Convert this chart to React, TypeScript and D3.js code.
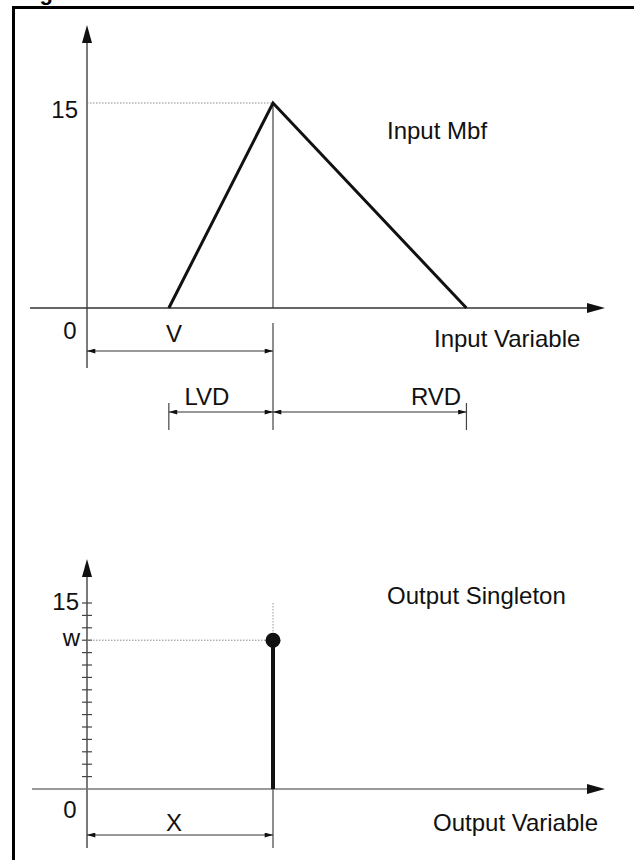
import React from 'react';
import * as d3 from 'd3';

// Input membership function (triangle), in axis units
const inputPeak = 15;
const inputV = 10;
const inputLVD = 5.6;
const inputRVD = 10.4;
const inputTicks = [0, 15];

// Output singleton
const outputX = 10;
const outputW = 12;
const outputTicks = d3.range(1, 16);

const W = 634;
const H = 860;
const FONT = '"Liberation Sans", Arial, Helvetica, sans-serif';

const Arrow = ({ x, y, dir, len = 18, half = 5 }: { x: number; y: number; dir: 'up' | 'right'; len?: number; half?: number }) => {
  const pts =
    dir === 'up'
      ? [[x, y], [x - half, y + len], [x + half, y + len]]
      : [[x, y], [x - len, y - half], [x - len, y + half]];
  return <polygon points={pts.map((p) => p.join(',')).join(' ')} fill="#111" />;
};

const App: React.FC = () => {
  // upper chart scales
  const xTop = d3.scaleLinear().domain([0, 10]).range([87, 273]);
  const yTop = d3.scaleLinear().domain([0, 15]).range([308, 103]);
  // lower chart scales
  const xBot = d3.scaleLinear().domain([0, 10]).range([87, 273]);
  const yBot = d3.scaleLinear().domain([0, 15]).range([789, 603]);

  const tri = d3
    .line<[number, number]>()
    .x((d) => xTop(d[0]))
    .y((d) => yTop(d[1]))([
    [inputV - inputLVD, 0],
    [inputV, inputPeak],
    [inputV + inputRVD, 0],
  ]);

  const axisColor = '#333';
  const textStyle: React.CSSProperties = { fontFamily: FONT, fontSize: 24, fill: '#111' };

  const dimY1 = 351;
  const dimY2 = 412;
  const dimY3 = 835;

  return (
    <svg width={W} height={H} style={{ position: 'absolute', left: 0, top: 0, background: '#fff' }}>
      <defs>
        <marker id="dimArrow" viewBox="0 0 10 6" refX="10" refY="3" markerWidth="9" markerHeight="5" markerUnits="userSpaceOnUse" orient="auto-start-reverse">
          <path d="M0,0 L10,3 L0,6 Z" fill="#111" />
        </marker>
      </defs>

      {/* caption fragment and frame */}
      <text x={20} y={0} style={{ fontFamily: FONT, fontSize: 22, fontWeight: 'bold' }} fill="#000">Fig</text>
      <line x1={12} x2={W} y1={7.5} y2={7.5} stroke="#000" strokeWidth={3} />
      <line x1={13.5} x2={13.5} y1={6} y2={H} stroke="#000" strokeWidth={3} />

      {/* ---------- upper chart ---------- */}
      <line x1={xTop(0)} x2={xTop(0)} y1={40} y2={368} stroke={axisColor} strokeWidth={1.3} />
      <Arrow x={xTop(0)} y={25} dir="up" />
      <line x1={30} x2={590} y1={yTop(0)} y2={yTop(0)} stroke={axisColor} strokeWidth={1.5} />
      <Arrow x={605} y={yTop(0)} dir="right" />

      <line x1={xTop(0)} x2={xTop(inputV)} y1={yTop(inputPeak)} y2={yTop(inputPeak)} stroke="#888" strokeWidth={1} strokeDasharray="1.5 1.5" />
      <line x1={xTop(inputV)} x2={xTop(inputV)} y1={yTop(inputPeak)} y2={yTop(0)} stroke="#444" strokeWidth={1.2} />
      <path d={tri ?? ''} fill="none" stroke="#111" strokeWidth={3} strokeLinejoin="miter" />

      <text x={78} y={yTop(inputTicks[1]) + 6} dy="0.36em" textAnchor="end" style={textStyle}>{inputTicks[1]}</text>
      <text x={70} y={330} dy="0.36em" textAnchor="middle" style={textStyle}>{inputTicks[0]}</text>
      <text x={387} y={139} style={textStyle}>Input Mbf</text>
      <text x={434} y={347} style={textStyle}>Input Variable</text>

      {/* dimension lines */}
      <line x1={xTop(inputV)} x2={xTop(inputV)} y1={323} y2={430} stroke="#444" strokeWidth={1.2} />
      <line x1={xTop(inputV - inputLVD)} x2={xTop(inputV - inputLVD)} y1={403} y2={430} stroke="#444" strokeWidth={1.2} />
      <line x1={xTop(inputV + inputRVD)} x2={xTop(inputV + inputRVD)} y1={403} y2={430} stroke="#444" strokeWidth={1.2} />

      <line x1={xTop(0)} x2={xTop(inputV)} y1={dimY1} y2={dimY1} stroke="#333" strokeWidth={1.2} markerStart="url(#dimArrow)" markerEnd="url(#dimArrow)" />
      <line x1={xTop(inputV - inputLVD)} x2={xTop(inputV)} y1={dimY2} y2={dimY2} stroke="#333" strokeWidth={1.2} markerStart="url(#dimArrow)" markerEnd="url(#dimArrow)" />
      <line x1={xTop(inputV)} x2={xTop(inputV + inputRVD)} y1={dimY2} y2={dimY2} stroke="#333" strokeWidth={1.2} markerStart="url(#dimArrow)" markerEnd="url(#dimArrow)" />

      <text x={174} y={333} dy="0.36em" textAnchor="middle" style={textStyle}>V</text>
      <text x={207} y={396} dy="0.36em" textAnchor="middle" style={textStyle}>LVD</text>
      <text x={436} y={396} dy="0.36em" textAnchor="middle" style={textStyle}>RVD</text>

      {/* ---------- lower chart ---------- */}
      <line x1={xBot(0)} x2={xBot(0)} y1={574} y2={848} stroke={axisColor} strokeWidth={1.3} />
      <Arrow x={xBot(0)} y={559} dir="up" />
      <line x1={32} x2={590} y1={yBot(0)} y2={yBot(0)} stroke="#777" strokeWidth={1.6} />
      <Arrow x={605} y={yBot(0)} dir="right" />

      {outputTicks.map((t) => (
        <line key={t} x1={xBot(0) - 5} x2={xBot(0) + 5} y1={yBot(t)} y2={yBot(t)} stroke="#444" strokeWidth={1.2} />
      ))}

      <line x1={xBot(0)} x2={xBot(outputX)} y1={yBot(outputW)} y2={yBot(outputW)} stroke="#888" strokeWidth={1} strokeDasharray="1.5 1.5" />
      <line x1={xBot(outputX)} x2={xBot(outputX)} y1={yBot(15)} y2={yBot(outputW) - 6} stroke="#999" strokeWidth={1} strokeDasharray="1.5 1.5" />
      <line x1={xBot(outputX)} x2={xBot(outputX)} y1={yBot(0)} y2={848} stroke="#444" strokeWidth={1.2} />
      <line x1={xBot(outputX)} x2={xBot(outputX)} y1={yBot(outputW)} y2={yBot(0)} stroke="#111" strokeWidth={4} />
      <circle cx={xBot(outputX)} cy={yBot(outputW)} r={7.5} fill="#111" />

      <text x={79} y={yBot(15) - 2} dy="0.36em" textAnchor="end" style={textStyle}>{outputTicks[14]}</text>
      <text x={80} y={yBot(outputW) - 1} dy="0.3em" textAnchor="end" style={textStyle}>w</text>
      <text x={70} y={809} dy="0.36em" textAnchor="middle" style={textStyle}>0</text>
      <text x={387} y={604} style={textStyle}>Output Singleton</text>
      <text x={433} y={831} style={textStyle}>Output Variable</text>

      <line x1={xBot(0)} x2={xBot(outputX)} y1={dimY3} y2={dimY3} stroke="#333" strokeWidth={1.2} markerStart="url(#dimArrow)" markerEnd="url(#dimArrow)" />
      <text x={174} y={822} dy="0.36em" textAnchor="middle" style={textStyle}>X</text>
    </svg>
  );
};

export default App;
